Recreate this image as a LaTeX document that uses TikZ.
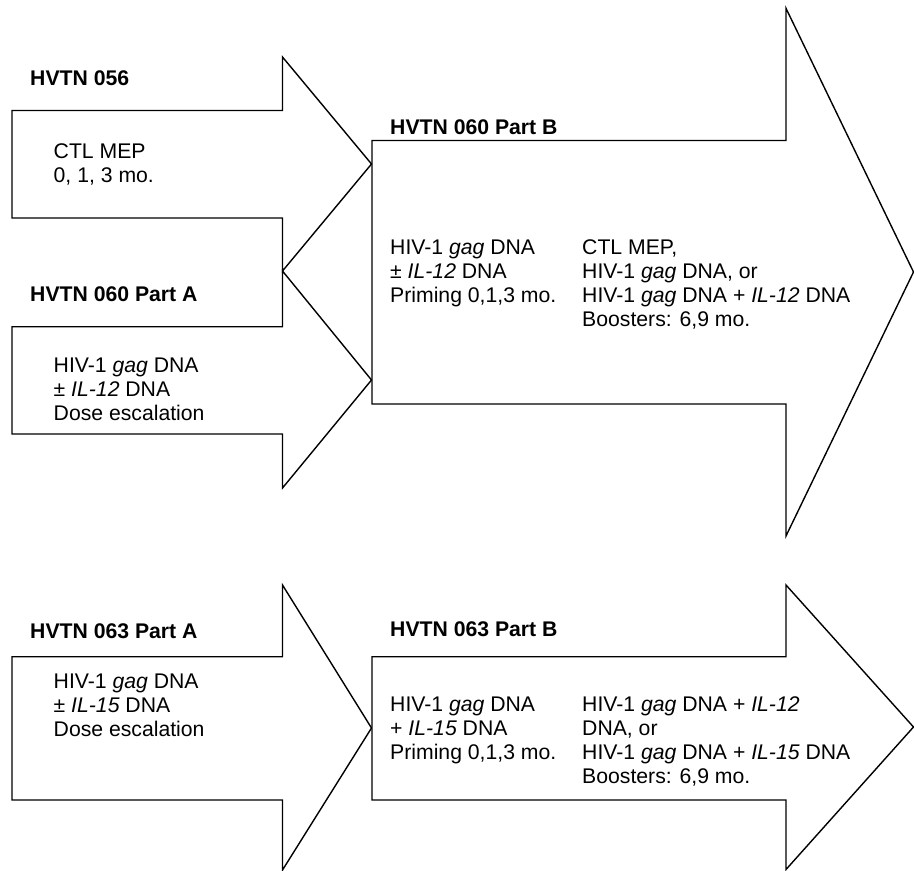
\documentclass[tikz,border=0pt]{standalone}
\usepackage{fontspec}
\setmainfont{Liberation Sans}
\begin{document}
\begin{tikzpicture}[x=1pt,y=-1pt,
  arrowline/.style={draw=black, fill=white, line width=1.4pt, line join=miter},
  titletext/.style={anchor=north west, inner sep=0pt, align=left, font=\fontsize{21.2}{24}\selectfont\bfseries},
  bodytext/.style={anchor=north west, inner sep=0pt, align=left, font=\fontsize{21.2}{24}\selectfont}]
\useasboundingbox (0,0) rectangle (914,871);

% HVTN 056 arrow
\draw[arrowline] (12,110.5) -- (282.5,110.5) -- (282.5,57) -- (371.5,164)
  -- (282.5,271) -- (282.5,218) -- (12,218) -- cycle;
% HVTN 060 Part A arrow
\draw[arrowline] (12,326.7) -- (282.5,326.7) -- (282.5,271) -- (371.5,380)
  -- (282.5,488) -- (282.5,434) -- (12,434) -- cycle;
% HVTN 060 Part B arrow
\draw[arrowline] (372,140.5) -- (786,140.5) -- (786,8.3) -- (913.5,272)
  -- (786,536) -- (786,404) -- (372,404) -- cycle;
% HVTN 063 Part A arrow
\draw[arrowline] (12,656.7) -- (282.5,656.7) -- (282.5,585) -- (371.5,728)
  -- (282.5,870) -- (282.5,800) -- (12,800) -- cycle;
% HVTN 063 Part B arrow
\draw[arrowline] (372,656.7) -- (786,656.7) -- (786,585) -- (913.5,727)
  -- (786,869.5) -- (786,800) -- (372,800) -- cycle;

% texts
\node[titletext] (t056) at (30,68.2) {\strut HVTN 056};
\node[bodytext] (b056) at (53.5,141.5) {\strut CTL MEP\\0, 1, 3 mo.};

\node[titletext] (t060a) at (30,284.9) {\strut HVTN 060 Part A};
\node[bodytext] (b060a) at (53.5,355.9) {\strut HIV-1 \textit{gag} DNA\\± \textit{IL-12} DNA\\Dose escalation};

\node[titletext] (t060b) at (390,117.2) {\strut HVTN 060 Part B};
\node[bodytext] (l060b) at (390,237.2) {\strut HIV-1 \textit{gag} DNA\\± \textit{IL-12} DNA\\Priming 0,1,3 mo.};
\node[bodytext] (r060b) at (582,237.2) {\strut CTL MEP,\\HIV-1 \textit{gag} DNA, or\\HIV-1 \textit{gag} DNA + \textit{IL-12} DNA\\Boosters: 6,9 mo.};

\node[titletext] (t063a) at (30,621.5) {\strut HVTN 063 Part A};
\node[bodytext] (b063a) at (53.5,671.5) {\strut HIV-1 \textit{gag} DNA\\± \textit{IL-15} DNA\\Dose escalation};

\node[titletext] (t063b) at (390,619.2) {\strut HVTN 063 Part B};
\node[bodytext] (l063b) at (390,694.2) {\strut HIV-1 \textit{gag} DNA\\+ \textit{IL-15} DNA\\Priming 0,1,3 mo.};
\node[bodytext] (r063b) at (582,694.2) {\strut HIV-1 \textit{gag} DNA + \textit{IL-12}\\DNA, or\\HIV-1 \textit{gag} DNA + \textit{IL-15} DNA\\Boosters: 6,9 mo.};
\end{tikzpicture}
\end{document}
